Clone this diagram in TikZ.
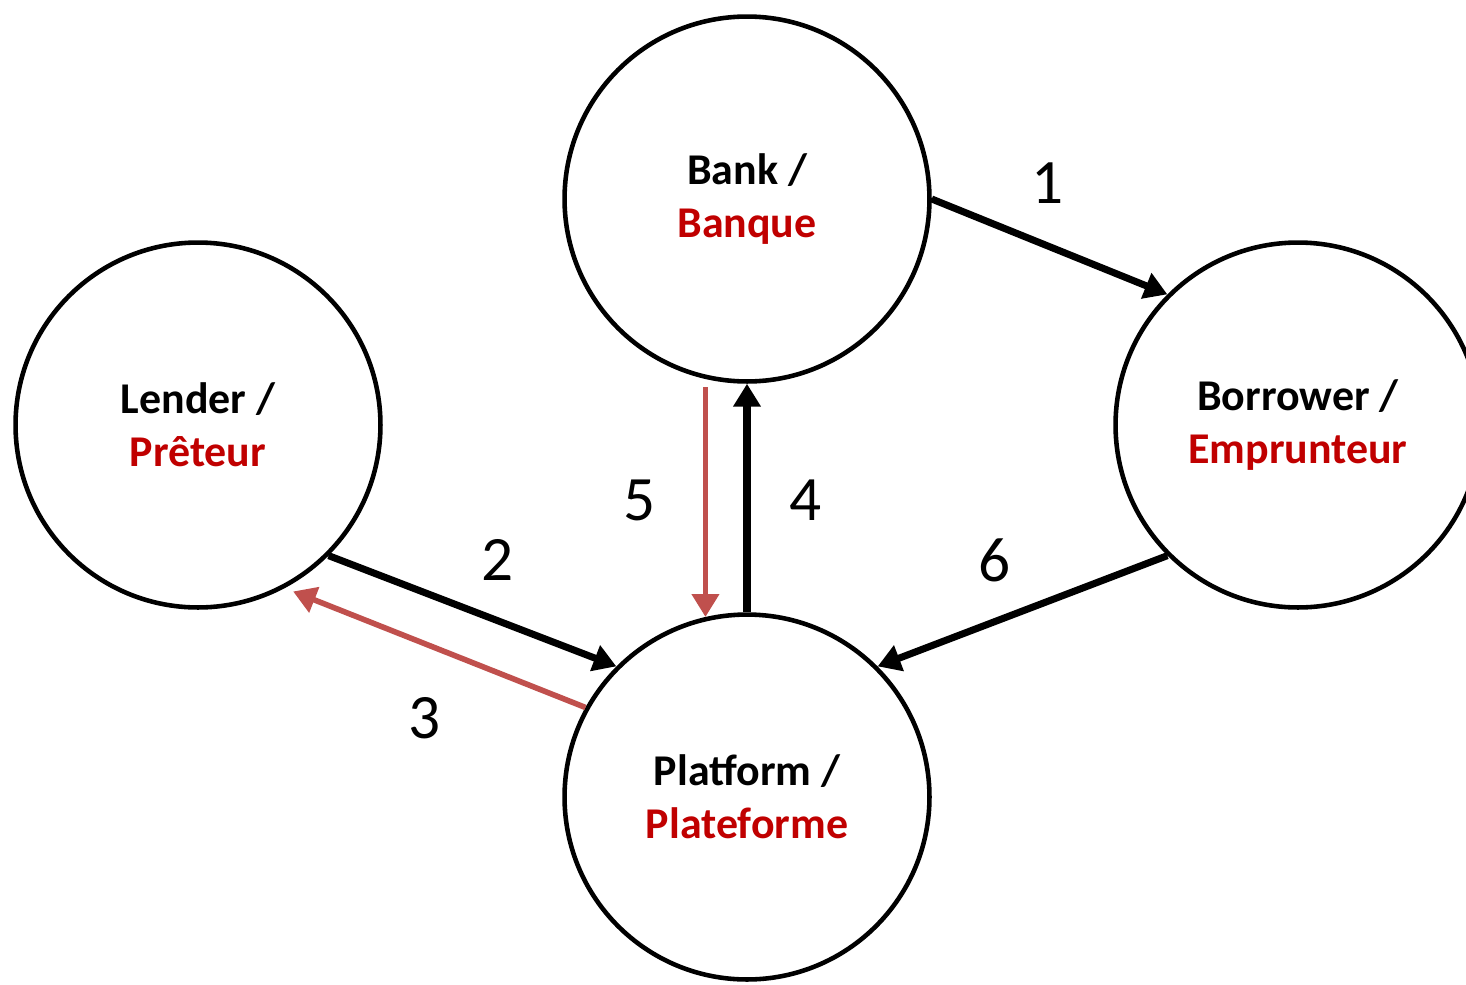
\documentclass[tikz,border=0pt]{standalone}
\usepackage{fontspec}
\setmainfont{Carlito}
\usetikzlibrary{arrows.meta}
\tikzset{>={Triangle[width=15pt,length=13pt]}}
\definecolor{darkred}{HTML}{C00000}
\definecolor{arrowred}{HTML}{C0504D}

\begin{document}
\begin{tikzpicture}[x=0.02cm,y=-0.02cm,
  actor/.style={draw, circle, line width=2.6pt, minimum size=7.3cm,
    inner sep=0pt, align=center,
    font=\bfseries\fontsize{25}{30}\selectfont},
  flow/.style={->, line width=4pt},
  back/.style={->, line width=3.2pt, color=arrowred},
  step label/.style={font=\fontsize{36}{40}\selectfont}]

\useasboundingbox (0,0) rectangle (1466,984); %% page size

\node[actor] (bank) at (747,199) {Bank /\\\textcolor{darkred}{Banque}};
\node[actor] (lender) at (198,425) {Lender /\\\textcolor{darkred}{Prêteur}};
\node[actor] (borrower) at (1298,425) {Borrower /\\\textcolor{darkred}{Emprunteur}};
\node[actor] (platform) at (747,797) {Platform /\\\textcolor{darkred}{Plateforme}};

%% flows
\draw[flow] (bank.east) -- (borrower.135);
\draw[flow] (lender.-45) -- (platform.135);
\draw[back, shorten >=0.18cm] (platform.151.4) -- (lender.-62);
\draw[flow] (platform.north) -- (bank.south);
\draw[back, shorten <=0.16cm] (bank.-103.3) -- (platform.103.3);
\draw[flow] (borrower.-135) -- (platform.45);

\node[step label] (n1) at (1048,183) {1};
\node[step label] (n2) at (498,560) {2};
\node[step label] (n3) at (425,718) {3};
\node[step label] (n4) at (806,500) {4};
\node[step label] (n5) at (640,500) {5};
\node[step label] (n6) at (995,560) {6};

\end{tikzpicture}
\end{document}
